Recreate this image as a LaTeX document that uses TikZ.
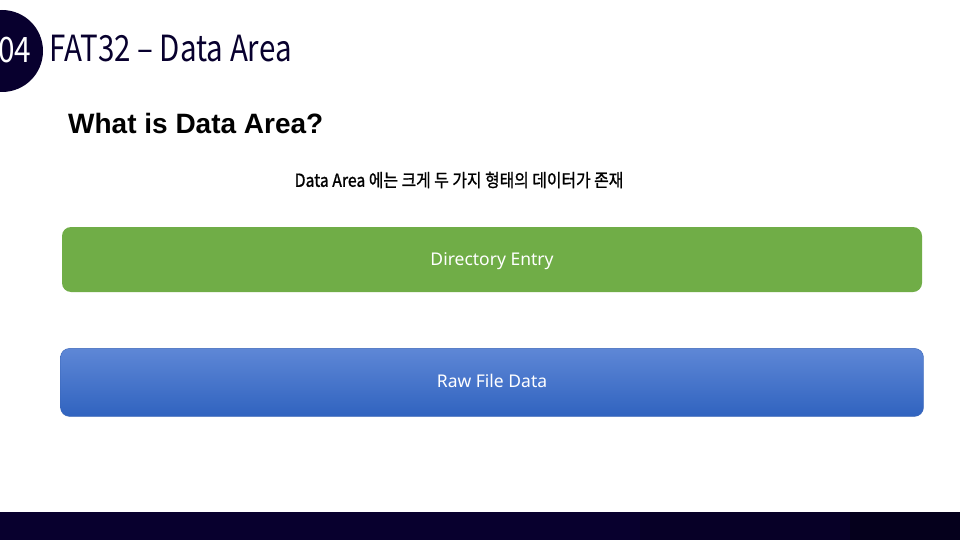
\documentclass[tikz,border=0pt]{standalone}
\usepackage{fontspec}
\usepackage{graphicx}
\setmainfont{Noto Sans}
\newfontfamily\kofont{Noto Sans CJK KR}
\newfontfamily\kobold{Noto Sans CJK KR}[FakeBold=1.2]
\newfontfamily\headfont{Liberation Sans}
\usetikzlibrary{positioning}

\definecolor{navy}{HTML}{08002E}
\definecolor{entrygreen}{HTML}{70AD47}
\definecolor{rawtop}{HTML}{5E87D6}
\definecolor{rawbot}{HTML}{3063BF}
\definecolor{rawline}{HTML}{3A66B8}

\tikzset{
  areabox/.style={
    rectangle,
    rounded corners=9pt,
    minimum width=860pt,
    text=white,
    text height=13pt,
    text depth=2pt,
    font=\fontsize{17.5}{20}\selectfont},
}

\begin{document}
\begin{tikzpicture}[x=1pt,y=-1pt]
  \useasboundingbox (0,0) rectangle (960,540);
  \fill[white] (0,0) rectangle (960,540);

  % header
  \node[circle, fill=navy, minimum size=82pt, inner sep=0pt] (badge) at (2,51) {};
  \node[text=white, font=\kofont\fontsize{35}{40}\selectfont, anchor=west, inner sep=0pt] (num) at (-2,50)
    {\scalebox{0.85}[1]{04}};
  \node[text=navy, font=\kofont\fontsize{36}{40}\selectfont, anchor=west, inner sep=0pt] (title) at (49,49)
    {\scalebox{0.82}[1]{FAT32 – Data Area}};

  \node[font=\headfont\bfseries\fontsize{28}{32}\selectfont, anchor=west, inner sep=0pt] (what) at (68,123) {What is Data Area?};
  \node[font=\kobold\fontsize{18}{20}\selectfont, inner sep=0pt] (intro) at (459,180)
    {\scalebox{0.88}[1]{Data Area 에는 크게 두 가지 형태의 데이터가 존재}};

  % the two areas
  \node[areabox, fill=entrygreen, minimum height=65pt] (entry) at (492,259.5) {Directory Entry};
  \node[
  areabox,
  below=56pt of entry,
  draw=rawline,
  top color=rawtop,
  bottom color=rawbot,
  minimum width=863pt,
  minimum height=68pt] (raw) {Raw File Data};

  % footer
  \fill[navy] (0,512) rectangle (960,540);
  \fill[navy!85!black] (640,512) rectangle (960,540);
  \fill[navy!60!black] (850,512) rectangle (960,540);
\end{tikzpicture}
\end{document}
